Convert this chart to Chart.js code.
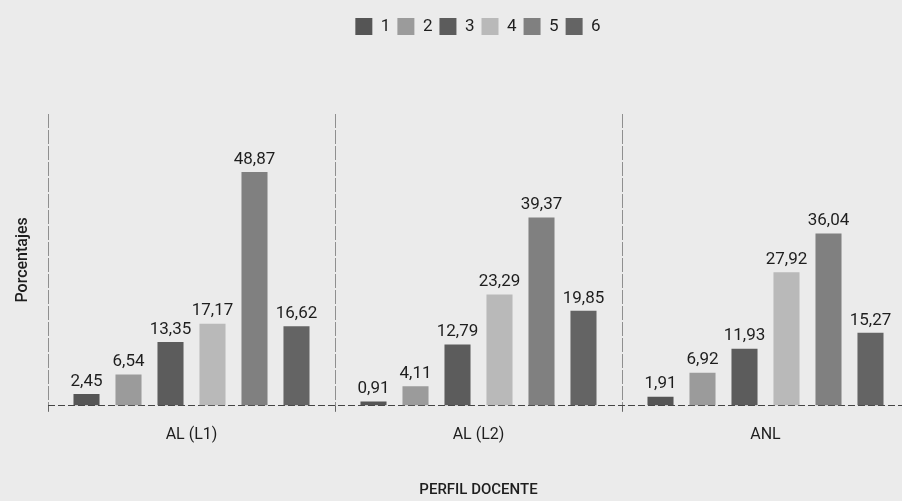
<!DOCTYPE html>
<html>
<head>
<meta charset="utf-8">
<script src="https://cdn.jsdelivr.net/npm/chart.js@4/dist/chart.umd.min.js"></script>
<style>
  html, body { margin: 0; padding: 0; background: #ebebeb; overflow: hidden; }
  #wrap { width: 902px; height: 501px; overflow: hidden; }
  #box { width: 956px; height: 501px; }
</style>
</head>
<body>
<div id="wrap"><div id="box"><canvas id="chart"></canvas></div></div>
<script>
'use strict';

// ── Data ─────────────────────────────────────────────────────────────────────
const categories = ['AL (L1)', 'AL (L2)', 'ANL'];
const series1 = [2.45, 0.91, 1.91];
const series2 = [6.54, 4.11, 6.92];
const series3 = [13.35, 12.79, 11.93];
const series4 = [17.17, 23.29, 27.92];
const series5 = [48.87, 39.37, 36.04];
const series6 = [16.62, 19.85, 15.27];
const seriesNames = ['1', '2', '3', '4', '5', '6'];
const colors = ['#555555', '#9b9b9b', '#5c5c5c', '#b9b9b9', '#808080', '#646464'];

const FONT = 'Roboto, "Liberation Sans", sans-serif';
const INK = '#1e1e1e';
const fmt = v => v.toFixed(2).replace('.', ',');

// ── Plugins ──────────────────────────────────────────────────────────────────
// extra room between the legend and the plot
const legendSpacer = {
  id: 'legendSpacer',
  beforeInit(chart) {
    const orig = chart.legend.fit;
    chart.legend.fit = function () {
      orig.bind(chart.legend)();
      this.height += 69;
    };
  },
};

// values above each bar
const valueLabels = {
  id: 'valueLabels',
  afterDatasetsDraw(chart) {
    const ctx = chart.ctx;
    ctx.save();
    ctx.font = '17px ' + FONT;
    ctx.fillStyle = INK;
    ctx.textAlign = 'center';
    ctx.textBaseline = 'bottom';
    chart.data.datasets.forEach((ds, i) => {
      chart.getDatasetMeta(i).data.forEach((bar, j) => {
        ctx.fillText(fmt(ds.data[j]), bar.x, bar.y - 4);
      });
    });
    ctx.restore();
  },
};

// ── Chart ────────────────────────────────────────────────────────────────────
const allSeries = [series1, series2, series3, series4, series5, series6];

new Chart(document.getElementById('chart'), {
  type: 'bar',
  data: {
    labels: categories,
    datasets: allSeries.map((d, i) => ({
      label: seriesNames[i],
      data: d,
      backgroundColor: colors[i],
      categoryPercentage: 0.878,
      barPercentage: 0.62,
      yAxisID: 'y',
    })),
  },
  plugins: [legendSpacer, valueLabels],
  options: {
    responsive: true,
    maintainAspectRatio: false,
    animation: false,
    layout: { padding: { top: 11, left: 0, right: 0, bottom: 0 } },
    plugins: {
      tooltip: { enabled: false },
      legend: {
        position: 'top',
        labels: {
          boxWidth: 17, boxHeight: 17, padding: 7,
          color: INK, font: { family: FONT, size: 17 },
        },
      },
    },
    scales: {
      x: {
        grid: { offset: true, color: '#8f8f8f', lineWidth: 1, tickLength: 6, tickColor: '#666' },
        border: { display: false, dash: [14, 2] },
        ticks: { color: INK, font: { family: FONT, size: 16 }, padding: 14, maxRotation: 0 },
        title: {
          display: true, text: 'PERFIL DOCENTE', color: INK,
          font: { family: FONT, size: 15, weight: '500' }, padding: { top: 22, bottom: 2 },
        },
      },
      y: {
        min: 0, max: 61,
        ticks: { display: false },
        grid: {
          drawTicks: false,
          color: c => (c.tick && c.tick.value === 0 ? '#444' : 'rgba(0,0,0,0)'),
        },
        border: { display: false, dash: [7, 3] },
        title: {
          display: true, text: 'Porcentajes', color: INK,
          font: { family: FONT, size: 16, weight: '500' }, padding: { top: 13, bottom: 0 },
        },
        afterFit(scale) { scale.width = 48; },
      },
      yR: {
        position: 'right',
        display: true,
        ticks: { display: false },
        grid: { display: false },
        border: { display: false },
        afterFit(scale) { scale.width = 47; },
      },
    },
  },
});
</script>
</body>
</html>
